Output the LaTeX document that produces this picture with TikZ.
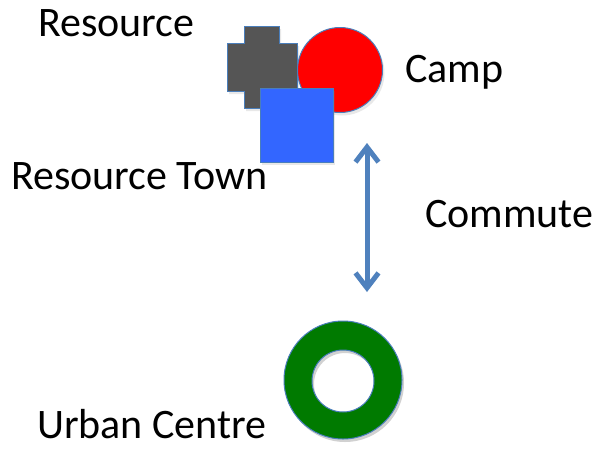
\documentclass[tikz,border=0pt]{standalone}
\usepackage{fontspec}
\setmainfont{Carlito}
\usetikzlibrary{arrows.meta,shadows}
\definecolor{edgeblue}{RGB}{74,126,187}
\definecolor{arrowblue}{RGB}{79,129,189}
\definecolor{crossgray}{RGB}{85,85,85}
\definecolor{sqblue}{RGB}{51,102,255}
\definecolor{ringgreen}{RGB}{0,122,0}
\tikzset{
  lbl/.style={anchor=base west, inner sep=0pt, font=\fontsize{42}{50}\selectfont, text=black},
  shp/.style={draw=edgeblue, line width=1pt, drop shadow={opacity=0.18, shadow xshift=2pt, shadow yshift=-3pt}},
  plain/.style={draw=edgeblue, line width=1pt},
}
\begin{document}
\begin{tikzpicture}[x=1pt,y=-1pt]
\useasboundingbox (0,0) rectangle (596,448);
% cross (resource)
\path[shp, fill=crossgray] (244,26) -- (279,26) -- (279,43) -- (297,43) -- (297,91) -- (279,91) -- (279,108) -- (244,108) -- (244,91) -- (227,91) -- (227,43) -- (244,43) -- cycle;
\coordinate (cross) at (262,67);
% camp circle
\node[shp, fill=red, circle, minimum size=85pt, inner sep=0pt] (camp) at (340,70) {};
% resource town square
\node[shp, fill=sqblue, rectangle, minimum width=73pt, minimum height=74pt, inner sep=0pt] (town) at (296.5,125) {};
% urban centre ring
\coordinate (urban) at (343,380);
\fill[black, opacity=0.18, even odd rule] ([shift={(2,3)}]urban) circle[radius=59pt] ([shift={(2,4)}]urban) circle[radius=31pt];
\path[plain, fill=ringgreen, even odd rule] (urban) circle[radius=59pt] ([yshift=-1pt]urban) circle[radius=31pt];
% commute arrow
\coordinate (atop) at (367,143);
\coordinate (abot) at (367,292);
\draw[arrowblue, line width=5pt, {Straight Barb[length=15pt,width=23pt]}-{Straight Barb[length=15pt,width=23pt]}] (atop) -- (abot);
% labels
\node[lbl] (lres) at (38,36) {Resource};
\node[lbl] (ltown) at (11,189) {Resource Town};
\node[lbl] (lcamp) at (405,82) {Camp};
\node[lbl] (lcomm) at (425,227) {Commute};
\node[lbl] (lurb) at (37,438) {Urban Centre};
\end{tikzpicture}
\end{document}
